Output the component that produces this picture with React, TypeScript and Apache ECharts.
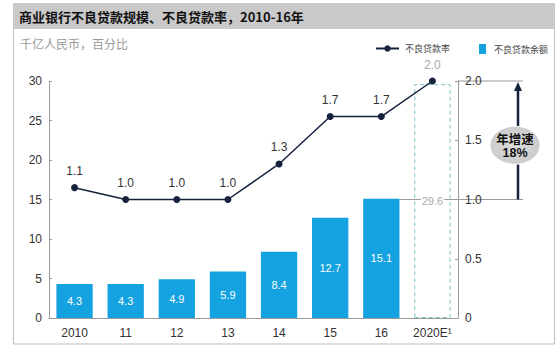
import React, { useEffect, useRef } from 'react';
import * as echarts from 'echarts';

const categories = ['2010', '11', '12', '13', '14', '15', '16', '2020E¹'];
const balances = [4.3, 4.3, 4.9, 5.9, 8.4, 12.7, 15.1, 29.6];
const rates = [1.1, 1.0, 1.0, 1.0, 1.3, 1.7, 1.7, 2.0];
const leftAxis = { min: 0, max: 30, interval: 5 };
const rightAxis = { min: 0, max: 2.0, interval: 0.5 };
const growthFrom = 1.0;
const growthTo = 2.0;
const growthText = ['年增速', '18%'];
const titleText = '商业银行不良贷款规模、不良贷款率，2010-16年';
const unitText = '千亿人民币，百分比';
const seriesNames = ['不良贷款率', '不良贷款余额'];

const CJK = '"Noto Sans CJK SC", "Noto Sans", sans-serif';
const NUM = '"Liberation Sans", Arial, sans-serif';
const BLUE = '#14a2e0';
const NAVY = '#15223d';

export default function App() {
  const ref = useRef<HTMLDivElement>(null);
  useEffect(() => {
    if (!ref.current) return;
    const chart = echarts.init(ref.current, null, { renderer: 'svg' });
    const lastIdx = categories.length - 1;
    const option: any = {
      animation: false,
      backgroundColor: '#ffffff',
      grid: { left: 49, right: 101, top: 81, bottom: 32, containLabel: false },
      legend: [
        {
          data: [seriesNames[0]],
          left: 370,
          top: 39,
          itemWidth: 23,
          itemHeight: 8,
          itemGap: 0,
          textStyle: { fontFamily: CJK, fontSize: 9, color: '#444', padding: [0, 0, 0, 1] },
        },
        {
          data: [{ name: seriesNames[1], icon: 'rect' }],
          left: 474,
          top: 39,
          itemWidth: 7,
          itemHeight: 10,
          textStyle: { fontFamily: CJK, fontSize: 9, color: '#444', padding: [0, 0, 0, 3] },
        },
      ],
      xAxis: {
        type: 'category',
        data: categories,
        axisLine: { lineStyle: { color: '#9a9a9a', width: 1 } },
        axisTick: { show: false },
        axisLabel: { fontFamily: NUM, fontSize: 12, color: '#333', margin: 9 },
      },
      yAxis: [
        {
          type: 'value',
          ...leftAxis,
          axisLine: { show: true, lineStyle: { color: '#9a9a9a' } },
          axisTick: { show: true, inside: true, length: 3, lineStyle: { color: '#9a9a9a' } },
          splitLine: { show: false },
          axisLabel: { fontFamily: NUM, fontSize: 12, color: '#333', margin: 7 },
        },
        {
          type: 'value',
          ...rightAxis,
          position: 'right',
          axisLine: { show: true, lineStyle: { color: '#9a9a9a' } },
          axisTick: { show: true, inside: true, length: 3, lineStyle: { color: '#9a9a9a' } },
          splitLine: { show: false },
          axisLabel: {
            fontFamily: NUM,
            fontSize: 12,
            color: '#333',
            margin: 7,
            formatter: (v: number) => (v === 0 ? '0' : v.toFixed(1)),
          },
        },
      ],
      series: [
        {
          name: seriesNames[1],
          type: 'bar',
          yAxisIndex: 0,
          barWidth: '71%',
          z: 2,
          itemStyle: { color: BLUE },
          label: {
            show: true,
            position: 'inside',
            color: '#fff',
            fontFamily: NUM,
            fontSize: 11,
            formatter: (p: any) => p.value.toFixed(1),
          },
          data: balances.map((v, i) =>
            i === lastIdx
              ? {
                  value: v,
                  itemStyle: {
                    color: 'rgba(0,0,0,0)',
                    borderColor: '#7cc3c8',
                    borderWidth: 1,
                    borderType: [4, 3],
                  },
                  label: { color: '#aaa', backgroundColor: '#fff', padding: [0, 1] },
                }
              : v
          ),
        },
        {
          name: seriesNames[0],
          type: 'line',
          yAxisIndex: 1,
          z: 5,
          symbol: 'circle',
          symbolSize: 7,
          lineStyle: { color: NAVY, width: 1.5 },
          itemStyle: { color: NAVY },
          label: {
            show: true,
            position: 'top',
            distance: 7,
            color: '#333',
            fontFamily: NUM,
            fontSize: 12,
            formatter: (p: any) => p.value.toFixed(1),
          },
          data: rates.map((v, i) =>
            i === lastIdx ? { value: v, label: { color: '#aaa' } } : v
          ),
        },
      ],
    };
    chart.setOption(option);

    const yTop = chart.convertToPixel({ yAxisIndex: 1 }, growthTo) as number;
    const yMid = chart.convertToPixel({ yAxisIndex: 1 }, growthFrom) as number;
    const xFirst = chart.convertToPixel({ xAxisIndex: 0 }, categories[0]) as number;
    const xSecond = chart.convertToPixel({ xAxisIndex: 0 }, categories[1]) as number;
    const band = xSecond - xFirst;
    const xPrev = chart.convertToPixel({ xAxisIndex: 0 }, categories[lastIdx - 1]) as number;
    const xLast = chart.convertToPixel({ xAxisIndex: 0 }, categories[lastIdx]) as number;
    const axisRightX = xLast + band / 2;
    const lineEnd = axisRightX + 65;
    const arrowX = axisRightX + 60;
    const ellCx = axisRightX + 57;
    const ellCy = (yTop + yMid) / 2 + 5;

    chart.setOption({
      graphic: [
        {
          type: 'rect',
          silent: true,
          z: -10,
          shape: { x: 13.5, y: 3.5, width: 541, height: 340.5 },
          style: { fill: 'none', stroke: '#bdbdbd', lineWidth: 1 },
        },
        {
          type: 'rect',
          silent: true,
          z: -9,
          shape: { x: 13, y: 3, width: 542, height: 26 },
          style: { fill: '#c9c9c9' },
        },
        {
          type: 'text',
          x: 19,
          y: 16,
          style: {
            text: titleText,
            fontFamily: CJK,
            fontWeight: 'bold',
            fontSize: 13,
            fill: '#111',
            verticalAlign: 'middle',
          },
        },
        {
          type: 'text',
          x: 20,
          y: 43,
          style: {
            text: unitText,
            fontFamily: CJK,
            fontSize: 12,
            fill: '#9a9a9a',
            verticalAlign: 'middle',
          },
        },
        {
          type: 'line',
          silent: true,
          z: 0,
          shape: { x1: axisRightX, y1: yTop, x2: lineEnd, y2: yTop },
          style: { stroke: '#9a9a9a', lineWidth: 1 },
        },
        {
          type: 'line',
          silent: true,
          z: 0,
          shape: { x1: xPrev + band * 0.355, y1: yMid, x2: lineEnd, y2: yMid },
          style: { stroke: '#9a9a9a', lineWidth: 1 },
        },
        {
          type: 'line',
          silent: true,
          z: 1,
          shape: { x1: arrowX, y1: yMid, x2: arrowX, y2: yTop + 8 },
          style: { stroke: NAVY, lineWidth: 2.5 },
        },
        {
          type: 'polygon',
          silent: true,
          z: 1,
          shape: {
            points: [
              [arrowX, yTop + 1],
              [arrowX - 4, yTop + 10],
              [arrowX + 4, yTop + 10],
            ],
          },
          style: { fill: NAVY },
        },
        {
          type: 'ellipse',
          silent: true,
          z: 2,
          shape: { cx: ellCx, cy: ellCy, rx: 25, ry: 19 },
          style: {
            fill: new echarts.graphic.RadialGradient(0.5, 0.5, 0.7, [
              { offset: 0, color: '#dedede' },
              { offset: 1, color: '#c4c4c4' },
            ]),
            stroke: '#ffffff',
            lineWidth: 1,
          },
        },
        {
          type: 'text',
          z: 3,
          x: ellCx,
          y: ellCy - 7,
          style: {
            text: growthText[0],
            fontFamily: CJK,
            fontWeight: 'bold',
            fontSize: 12.5,
            fill: '#111',
            align: 'center',
            verticalAlign: 'middle',
          },
        },
        {
          type: 'text',
          z: 3,
          x: ellCx,
          y: ellCy + 8,
          style: {
            text: growthText[1],
            fontFamily: NUM,
            fontWeight: 'bold',
            fontSize: 12.5,
            fill: '#111',
            align: 'center',
            verticalAlign: 'middle',
          },
        },
      ],
    });

    return () => chart.dispose();
  }, []);
  return (
    <div
      ref={ref}
      style={{ position: 'fixed', left: 0, top: 0, width: 559, height: 350, background: '#fff' }}
    />
  );
}
